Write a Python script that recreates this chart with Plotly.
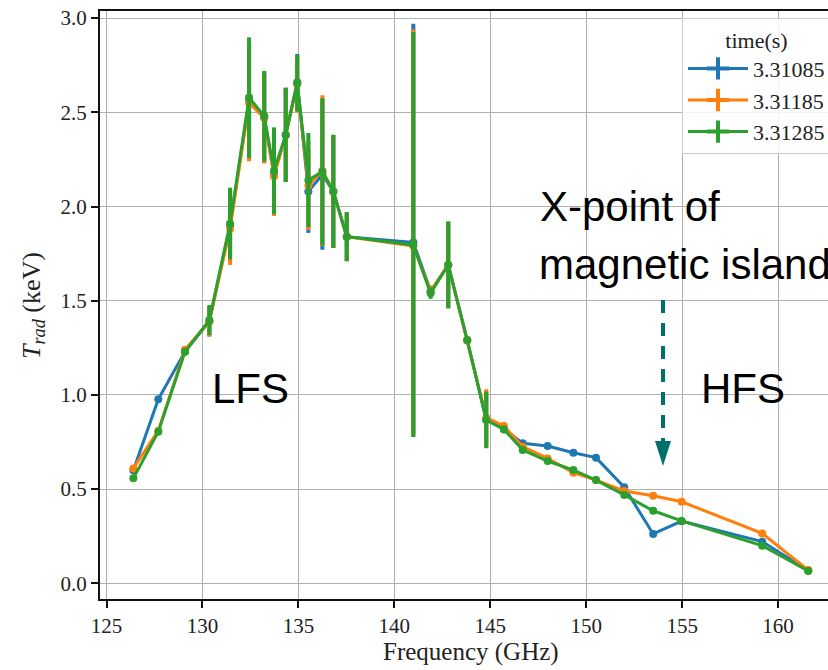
import plotly.graph_objects as go

freq = [126.40, 127.70, 129.09, 130.36, 131.44, 132.43, 133.22, 133.73, 134.34, 134.94,
        135.52, 136.25, 136.82, 137.52, 140.99, 141.89, 142.81, 143.80, 144.79, 145.71,
        146.69, 147.99, 149.33, 150.51, 151.98, 153.49, 154.97, 159.17, 161.57]

t_31085 = [0.60, 0.977, 1.23, 1.39, 1.90, 2.56, 2.47, 2.17, 2.38, 2.66,
           2.08, 2.17, 2.08, 1.84, 1.81, 1.55, 1.69, 1.29, 0.87, 0.82,
           0.743, 0.729, 0.693, 0.667, 0.51, 0.262, 0.33, 0.221, 0.068]
t_31185 = [0.61, 0.81, 1.24, 1.39, 1.88, 2.55, 2.47, 2.16, 2.38, 2.65,
           2.11, 2.19, 2.08, 1.84, 1.79, 1.55, 1.69, 1.29, 0.88, 0.835,
           0.725, 0.663, 0.587, 0.548, 0.49, 0.465, 0.433, 0.265, 0.07]
t_31285 = [0.557, 0.805, 1.229, 1.397, 1.91, 2.578, 2.48, 2.19, 2.38, 2.654,
           2.14, 2.185, 2.08, 1.84, 1.796, 1.54, 1.69, 1.29, 0.867, 0.817,
           0.708, 0.649, 0.601, 0.548, 0.469, 0.385, 0.331, 0.20, 0.065]

# upper / lower error bar lengths (keV)
errp_31085 = [0.01, 0.01, 0.01, 0.08, 0.19, 0.31, 0.24, 0.21, 0.25, 0.15,
              0.22, 0.40, 0.30, 0.13, 1.16, 0.03, 0.23, 0.02, 0.15, 0.02,
              0.01, 0.01, 0.01, 0.01, 0.01, 0.01, 0.01, 0.01, 0.01]
errm_31085 = [0.01, 0.01, 0.01, 0.08, 0.19, 0.31, 0.24, 0.21, 0.25, 0.15,
              0.22, 0.40, 0.30, 0.13, 1.02, 0.03, 0.23, 0.02, 0.15, 0.02,
              0.01, 0.01, 0.01, 0.01, 0.01, 0.01, 0.01, 0.01, 0.01]
errp_31185 = [0.01, 0.01, 0.01, 0.08, 0.19, 0.31, 0.24, 0.21, 0.25, 0.15,
              0.235, 0.40, 0.30, 0.13, 1.15, 0.03, 0.23, 0.02, 0.15, 0.02,
              0.01, 0.01, 0.01, 0.01, 0.01, 0.01, 0.01, 0.01, 0.01]
errm_31185 = [0.01, 0.01, 0.01, 0.08, 0.19, 0.31, 0.24, 0.21, 0.25, 0.15,
              0.235, 0.40, 0.30, 0.13, 1.01, 0.03, 0.23, 0.02, 0.15, 0.02,
              0.01, 0.01, 0.01, 0.01, 0.01, 0.01, 0.01, 0.01, 0.01]
errp_31285 = [0.01, 0.01, 0.01, 0.08, 0.19, 0.32, 0.24, 0.23, 0.25, 0.15,
              0.25, 0.39, 0.30, 0.13, 1.13, 0.03, 0.23, 0.02, 0.15, 0.02,
              0.01, 0.01, 0.01, 0.01, 0.01, 0.01, 0.01, 0.01, 0.01]
errm_31285 = [0.01, 0.01, 0.01, 0.08, 0.19, 0.32, 0.24, 0.23, 0.25, 0.15,
              0.25, 0.39, 0.30, 0.13, 1.02, 0.03, 0.23, 0.02, 0.15, 0.02,
              0.01, 0.01, 0.01, 0.01, 0.01, 0.01, 0.01, 0.01, 0.01]

series = [("3.31085", t_31085, errp_31085, errm_31085, "#1f77b4"),
          ("3.31185", t_31185, errp_31185, errm_31185, "#ff7f0e"),
          ("3.31285", t_31285, errp_31285, errm_31285, "#2ca02c")]

x_ticks = [125, 130, 135, 140, 145, 150, 155, 160]
y_ticks = [0.0, 0.5, 1.0, 1.5, 2.0, 2.5, 3.0]
y_tick_text = ["0.0", "0.5", "1.0", "1.5", "2.0", "2.5", "3.0"]

W, H = 828, 670
ML, MR, MT, MB = 100, 0, 11, 71
PW, PH = W - ML - MR, H - MT - MB


def px(xp):
    return (xp - ML) / PW


def py(yp):
    return (H - MB - yp) / PH


fig = go.Figure()
for name, vals, ep, em, col in series:
    fig.add_trace(go.Scatter(
        x=freq, y=vals, mode="lines+markers", name=name, showlegend=False,
        line=dict(color=col, width=3),
        marker=dict(color=col, size=8),
        error_y=dict(type="data", array=ep, arrayminus=em, symmetric=False,
                     visible=True, color=col, thickness=4, width=0),
    ))
for name, vals, ep, em, col in series:
    fig.add_trace(go.Scatter(
        x=[None], y=[None], mode="lines+markers", name=name, showlegend=True,
        line=dict(color=col, width=3),
        marker=dict(color=col, size=16, symbol="cross-thin", line=dict(color=col, width=4)),
    ))

serif = "Liberation Serif"
sans = "Liberation Sans"

fig.update_layout(
    width=W, height=H,
    margin=dict(l=ML, r=MR, t=MT, b=MB, autoexpand=False),
    paper_bgcolor="white", plot_bgcolor="white",
    font=dict(family=serif, size=21, color="#222"),
    showlegend=True,
    legend=dict(
        x=px(682), y=py(18), xanchor="left", yanchor="top",
        bgcolor="rgba(255,255,255,0.85)", bordercolor="#cccccc", borderwidth=1,
        font=dict(family=serif, size=22, color="#222"),
        title=dict(text="time(s)", side="top center", font=dict(family=serif, size=22, color="#222")),
        itemwidth=60,
    ),
    xaxis=dict(
        range=[124.661, 162.60], tickvals=x_ticks, ticktext=[str(v) for v in x_ticks],
        showgrid=True, gridcolor="#b0b0b0", gridwidth=1, zeroline=False,
        showline=True, linecolor="#111", linewidth=2, mirror=True,
        ticks="outside", ticklen=7, tickwidth=1.5, tickcolor="#111",
        tickfont=dict(family=serif, size=21, color="#222"), automargin=False,
    ),
    yaxis=dict(
        range=[-0.0833, 3.0377], tickvals=y_ticks, ticktext=y_tick_text,
        showgrid=True, gridcolor="#b0b0b0", gridwidth=1, zeroline=False,
        showline=True, linecolor="#111", linewidth=2, mirror=False,
        ticks="outside", ticklen=7, tickwidth=1.5, tickcolor="#111",
        tickfont=dict(family=serif, size=21, color="#222"), automargin=False,
    ),
)

# axis titles
fig.add_annotation(x=px(471), y=py(652), xref="paper", yref="paper", showarrow=False,
                   text="Frequency (GHz)", font=dict(family=serif, size=25, color="#222"),
                   xanchor="center", yanchor="middle")
fig.add_annotation(x=px(33), y=py(306), xref="paper", yref="paper", showarrow=False,
                   text="<i>T</i><sub><i>rad</i></sub> (keV)", textangle=-90,
                   font=dict(family=serif, size=26, color="#222"),
                   xanchor="center", yanchor="middle")

# region labels
for txt, cx, cy in [("LFS", 250, 389), ("HFS", 743, 389)]:
    fig.add_annotation(x=px(cx), y=py(cy), xref="paper", yref="paper", showarrow=False,
                       text=txt, font=dict(family=sans, size=42, color="black"),
                       xanchor="center", yanchor="middle")
fig.add_annotation(x=px(538), y=py(206), xref="paper", yref="paper", showarrow=False,
                   text="X-point of", font=dict(family=sans, size=42, color="black"),
                   xanchor="left", yanchor="middle")
fig.add_annotation(x=px(537), y=py(264), xref="paper", yref="paper", showarrow=False,
                   text="magnetic island", font=dict(family=sans, size=42, color="black"),
                   xanchor="left", yanchor="middle")

# dashed arrow
teal = "#00706B"
fig.add_shape(type="line", xref="paper", yref="paper",
              x0=px(663), x1=px(663), y0=py(300), y1=py(442),
              line=dict(color=teal, width=4, dash="13px,10px"))
fig.add_shape(type="path", xref="paper", yref="paper",
              path=f"M {px(655)} {py(441)} L {px(671)} {py(441)} L {px(663)} {py(466)} Z",
              fillcolor=teal, line=dict(color=teal, width=0))

fig.write_html("out.html")
